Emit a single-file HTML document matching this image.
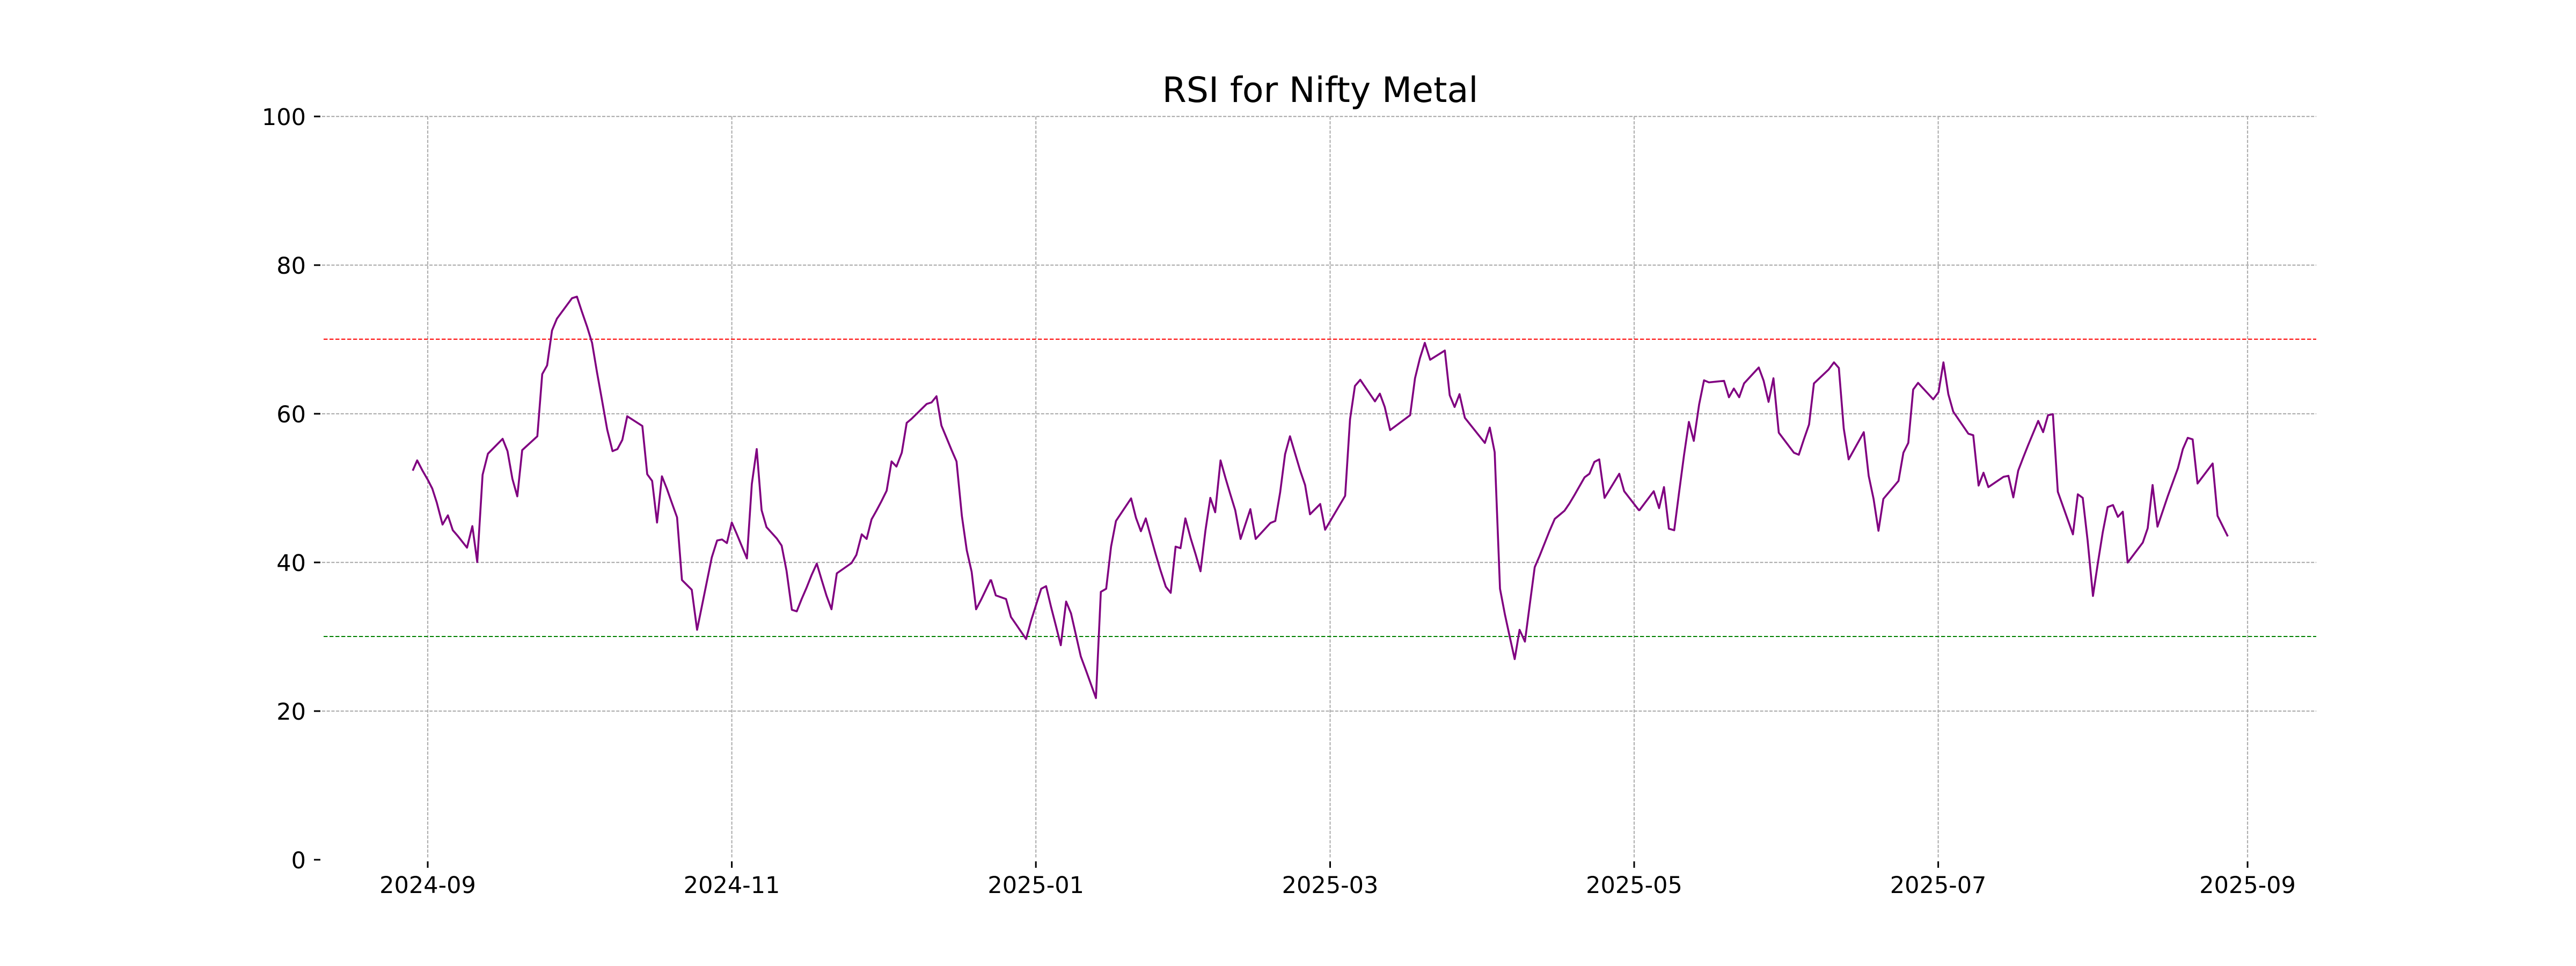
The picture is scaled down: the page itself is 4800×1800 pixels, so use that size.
<!DOCTYPE html>
<html><head><meta charset="utf-8"><style>html,body{margin:0;padding:0;background:#fff;}svg{display:block;}</style></head>
<body>
<svg width="4800" height="1800" viewBox="0 0 4800 1800" xmlns="http://www.w3.org/2000/svg" font-family="'DejaVu Sans','Liberation Sans',sans-serif">
<rect width="4800" height="1800" fill="#fff"/>
<g stroke="#b0b0b0" stroke-width="2.2" stroke-dasharray="6 2.7" fill="none">
<line x1="600" y1="217" x2="4316" y2="217"/>
<line x1="600" y1="494" x2="4316" y2="494"/>
<line x1="600" y1="771" x2="4316" y2="771"/>
<line x1="600" y1="1048" x2="4316" y2="1048"/>
<line x1="600" y1="1325" x2="4316" y2="1325"/>
<line x1="797" y1="217" x2="797" y2="1600"/>
<line x1="1363.6" y1="217" x2="1363.6" y2="1600"/>
<line x1="1930.2" y1="217" x2="1930.2" y2="1600"/>
<line x1="2478.5" y1="217" x2="2478.5" y2="1600"/>
<line x1="3045" y1="217" x2="3045" y2="1600"/>
<line x1="3611.6" y1="217" x2="3611.6" y2="1600"/>
<line x1="4188" y1="217" x2="4188" y2="1600"/>
</g>
<line x1="603" y1="632" x2="4316" y2="632" stroke="#ff0000" stroke-width="2" stroke-dasharray="7.4 3.6"/>
<line x1="603" y1="1186" x2="4316" y2="1186" stroke="#008000" stroke-width="2" stroke-dasharray="7.4 3.6"/>
<g fill="none" stroke="#800080" stroke-width="3.6" stroke-linejoin="round">
<polyline vector-effect="non-scaling-stroke" transform="translate(580,150) scale(0.8292,0.9566)" points="228,760 238,740 250,760 262,778 272,795 282,822 295,865 307,847 318,876 330,888 350,910 362,868 373,938 385,768 397,727 430,698 441,722 452,776 463,810 474,720 508,693 519,572 530,555 541,487 552,464 586,424 597,421 608,450 620,480 631,511 642,568 653,621 665,680 677,722 688,718 699,700 710,654 744,673 755,767 766,780 777,861 788,771 799,795 810,822 822,851 833,973 855,992 867,1070 878,1023 889,976 900,929 912,896 923,894 934,901 945,861 956,883 967,906 979,931 990,786 1001,718 1012,837 1023,870 1046,892 1057,906 1068,955 1080,1031 1091,1034 1102,1010 1113,988 1124,964 1136,941 1147,973 1158,1004 1169,1030 1181,960 1214,940 1225,924 1237,884 1248,893 1259,855 1270,838 1281,820 1293,799 1304,742 1315,752 1327,725 1338,667 1349,659 1383,630 1394,627 1405,615 1416,672 1428,697 1439,720 1450,742 1462,848 1473,915 1484,957 1494,1030 1506,1010 1527,972"/>
<polyline vector-effect="non-scaling-stroke" transform="translate(1800,150) scale(0.8292,0.9566)" points="56,972 67,1003 90,1010 101,1045 113,1060 135,1088 147,1050 158,1020 169,990 180,985 191,1025 202,1062 213,1100 225,1015 236,1038 247,1080 258,1122 270,1150 292,1203 303,996 315,990 326,908 337,858 371,814 382,852 393,878 404,853 415,888 426,922 437,954 449,986 460,998 471,908 482,911 493,853 505,892 516,923 527,956 538,877 549,813 560,841 572,740 583,774 594,806 605,837 617,893 639,835 651,893 684,862 695,858 706,802 717,728 728,693 740,728 751,760 762,788 773,845 796,825 807,875 852,809 863,660 874,595 886,583 919,625 930,610 941,636 953,681 998,652 1009,580 1020,541 1031,511 1043,544 1076,526 1087,613 1098,636 1109,611 1121,657 1166,706 1177,676 1188,724 1200,990 1211,1040 1222,1084 1233,1127 1244,1070 1256,1093 1267,1020 1278,948 1289,926 1300,902 1311,878 1323,854 1345,838 1356,824 1367,808 1390,773 1401,766 1412,743 1423,738 1435,813 1468,766 1479,800 1513,838"/>
<polyline vector-effect="non-scaling-stroke" transform="translate(3050,150) scale(0.8292,0.9566)" points="5,838 38,800 50,833 61,792 72,873 84,876 95,802 106,730 117,665 128,702 140,631 151,584 162,588 196,585 207,617 218,600 230,617 241,590 274,559 285,585 296,626 307,580 319,686 353,725 364,729 375,700 387,670 398,590 431,563 443,549 454,560 465,678 476,738 510,685 521,770 532,815 543,877 554,815 588,780 599,725 610,706 621,602 632,589 666,621 678,607 689,549 700,611 711,645 745,688 756,691 768,789 779,764 790,792 824,772 835,770 846,812 857,760 868,735 879,711 902,663 913,685 924,652 935,650 946,801 980,884 991,806 1002,813 1013,896 1025,1004 1036,940 1047,880 1058,831 1070,827 1081,850 1092,840 1103,939 1137,900 1148,872 1159,788 1170,869 1193,810 1216,755 1227,718 1238,696 1249,699 1260,785 1294,746 1305,848 1328,888"/>
</g>
<g stroke="#000" stroke-width="3">
<line x1="585" y1="217" x2="597" y2="217"/>
<line x1="585" y1="494" x2="597" y2="494"/>
<line x1="585" y1="771" x2="597" y2="771"/>
<line x1="585" y1="1048" x2="597" y2="1048"/>
<line x1="585" y1="1325" x2="597" y2="1325"/>
<line x1="585" y1="1602" x2="597" y2="1602"/>
<line x1="797" y1="1605" x2="797" y2="1617"/>
<line x1="1363.6" y1="1605" x2="1363.6" y2="1617"/>
<line x1="1930.2" y1="1605" x2="1930.2" y2="1617"/>
<line x1="2478.5" y1="1605" x2="2478.5" y2="1617"/>
<line x1="3045" y1="1605" x2="3045" y2="1617"/>
<line x1="3611.6" y1="1605" x2="3611.6" y2="1617"/>
<line x1="4188" y1="1605" x2="4188" y2="1617"/>
</g>
<g font-size="43" fill="#000" text-anchor="end">
<text x="570" y="233">100</text>
<text x="570" y="510">80</text>
<text x="570" y="787">60</text>
<text x="570" y="1064">40</text>
<text x="570" y="1341">20</text>
<text x="570" y="1618">0</text>
</g>
<g font-size="43" fill="#000" text-anchor="middle">
<text x="797" y="1664">2024-09</text>
<text x="1363.6" y="1664">2024-11</text>
<text x="1930.2" y="1664">2025-01</text>
<text x="2478.5" y="1664">2025-03</text>
<text x="3045" y="1664">2025-05</text>
<text x="3611.6" y="1664">2025-07</text>
<text x="4188" y="1664">2025-09</text>
</g>
<text x="2460" y="190" font-size="65" text-anchor="middle" fill="#000">RSI for Nifty Metal</text>
</svg>
</body></html>
